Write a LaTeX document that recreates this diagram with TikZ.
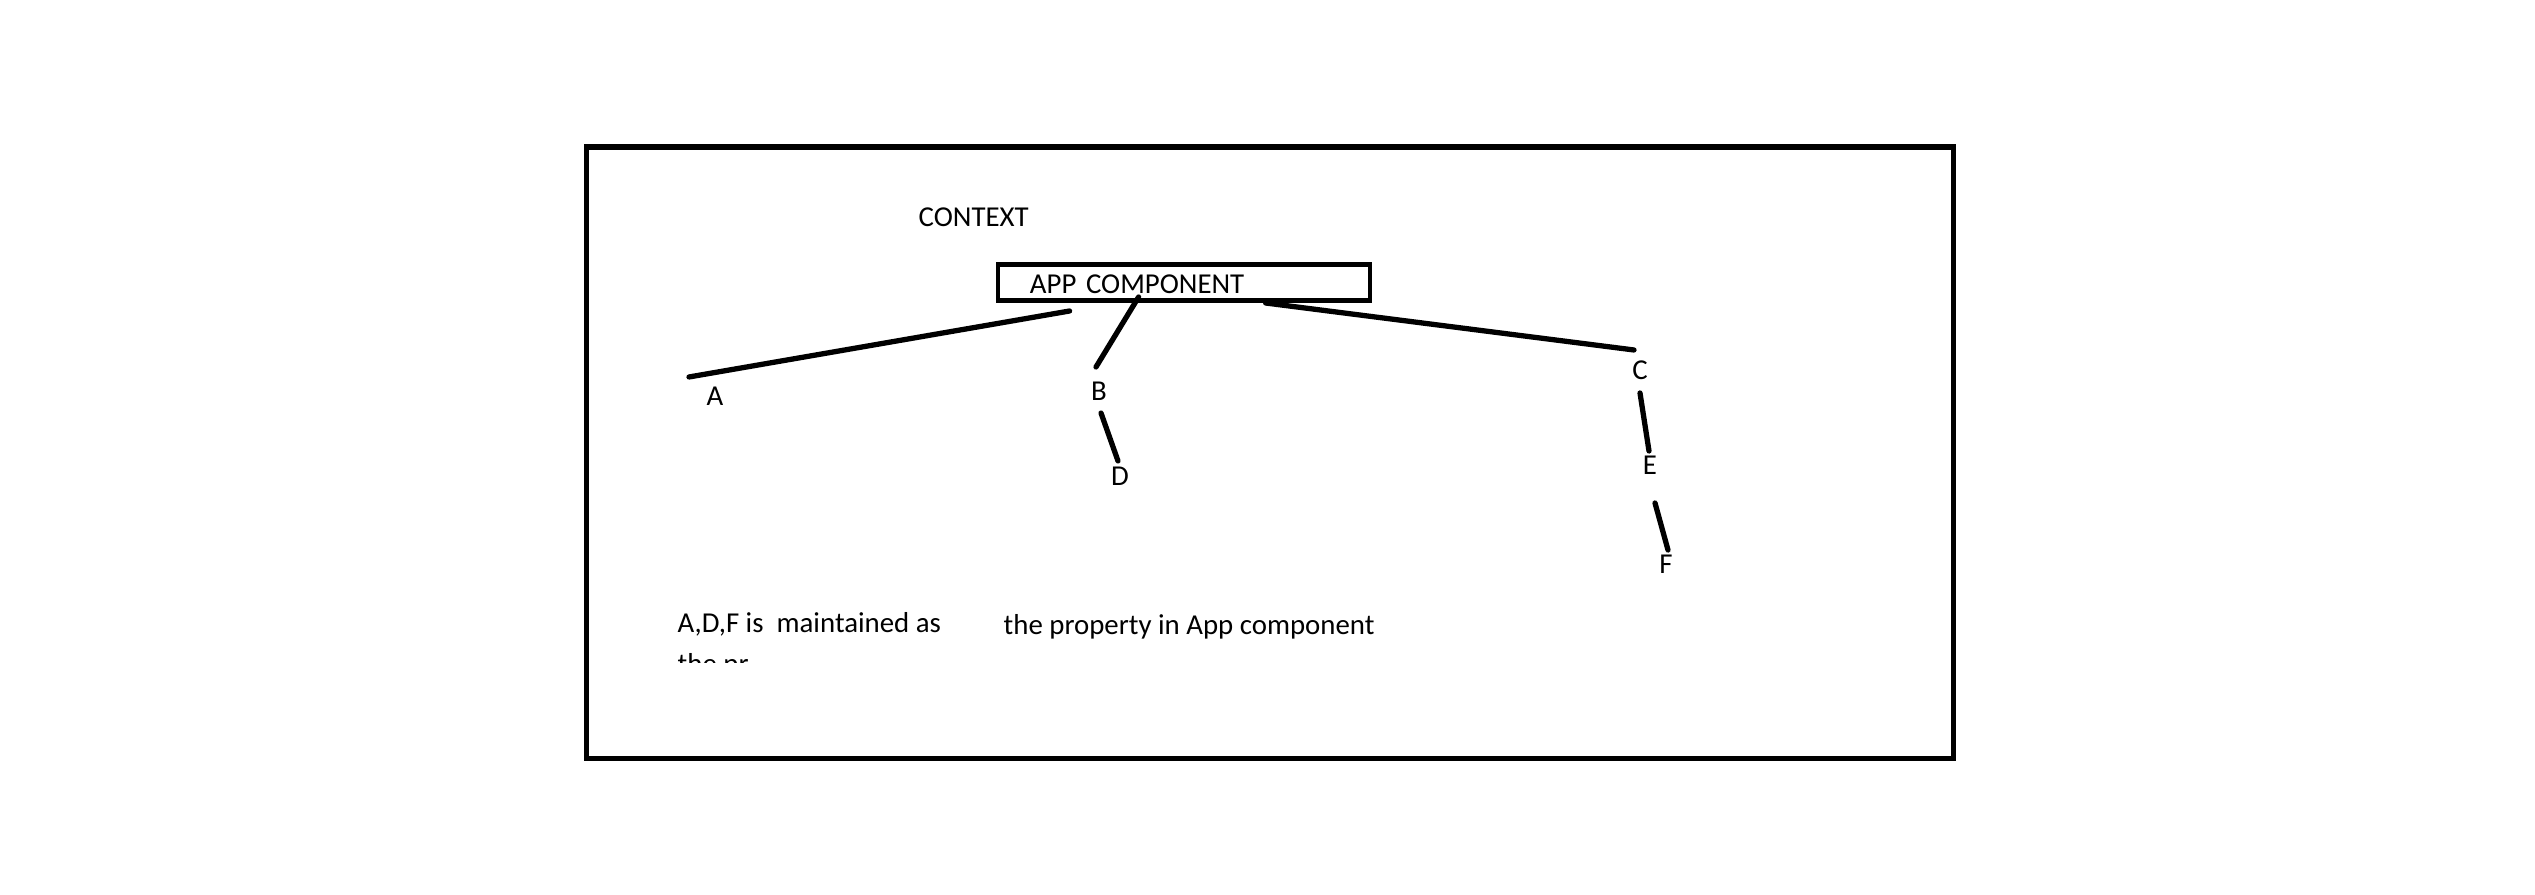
\documentclass[tikz,border=0pt]{standalone}
\usepackage{fontspec}
\setmainfont{Carlito}
\usepackage{tikz}
\usetikzlibrary{positioning, calc}

\begin{document}
\begin{tikzpicture}[x=0.01cm, y=-0.01cm,
    lbl/.style={inner sep=0, font=\fontsize{8.2}{10}\selectfont},
    link/.style={line width=1.5pt, line cap=round}]
    \useasboundingbox (0, 0) rectangle (2535, 895);
    \draw[line width=1.5pt] (586.5, 147) rectangle (1953.5, 758.5);

    \node[lbl, anchor=base west] (ctx) at (918, 227) {CONTEXT};
    \node[draw, line width=1.3pt, minimum width=3.72cm, minimum height=0.36cm,
          inner sep=0, text width=3.08cm, text height=0.22cm, text depth=0pt,
          align=left, font=\fontsize{8.2}{10}\selectfont] (app) at (1184, 282.7) {APP COMPONENT};

    \node[lbl] (A) at (715, 396) {A};
    \node[lbl] (B) at (1099, 391) {B};
    \node[lbl] (C) at (1640, 370) {C};
    \node[lbl] (D) at (1120, 476) {D};
    \node[lbl] (E) at (1650, 465) {E};
    \node[lbl] (F) at (1666, 564) {F};

    \draw[link] ($(app.south west)+(74, 8)$) -- ($(A)+(-26, -19)$);
    \draw[link] ($(app.south west)+(143, -6)$) -- ($(B)+(-3, -24)$);
    \draw[link] ($(app.south west)+(270, 0)$) -- ($(C)+(-6, -20)$);
    \draw[link] ($(B)+(2, 22)$) -- ($(D)+(-2, -15)$);
    \draw[link] ($(C)+(0, 23)$) -- ($(E)+(-1, -14)$);
    \draw[link] ($(E)+(5, 38)$) -- ($(F)+(2, -14)$);

    \node[lbl, anchor=base west] (note) at (677, 633) {A,D,F is\ \ maintained as};
    \node[lbl, anchor=base west] (note2) at (1003, 635) {the property in App component};
    \begin{scope}
        \clip (600, 640) rectangle (1000, 663);
        \node[lbl, anchor=base west] (note3) at (677, 674) {the pr};
    \end{scope}
\end{tikzpicture}
\end{document}
